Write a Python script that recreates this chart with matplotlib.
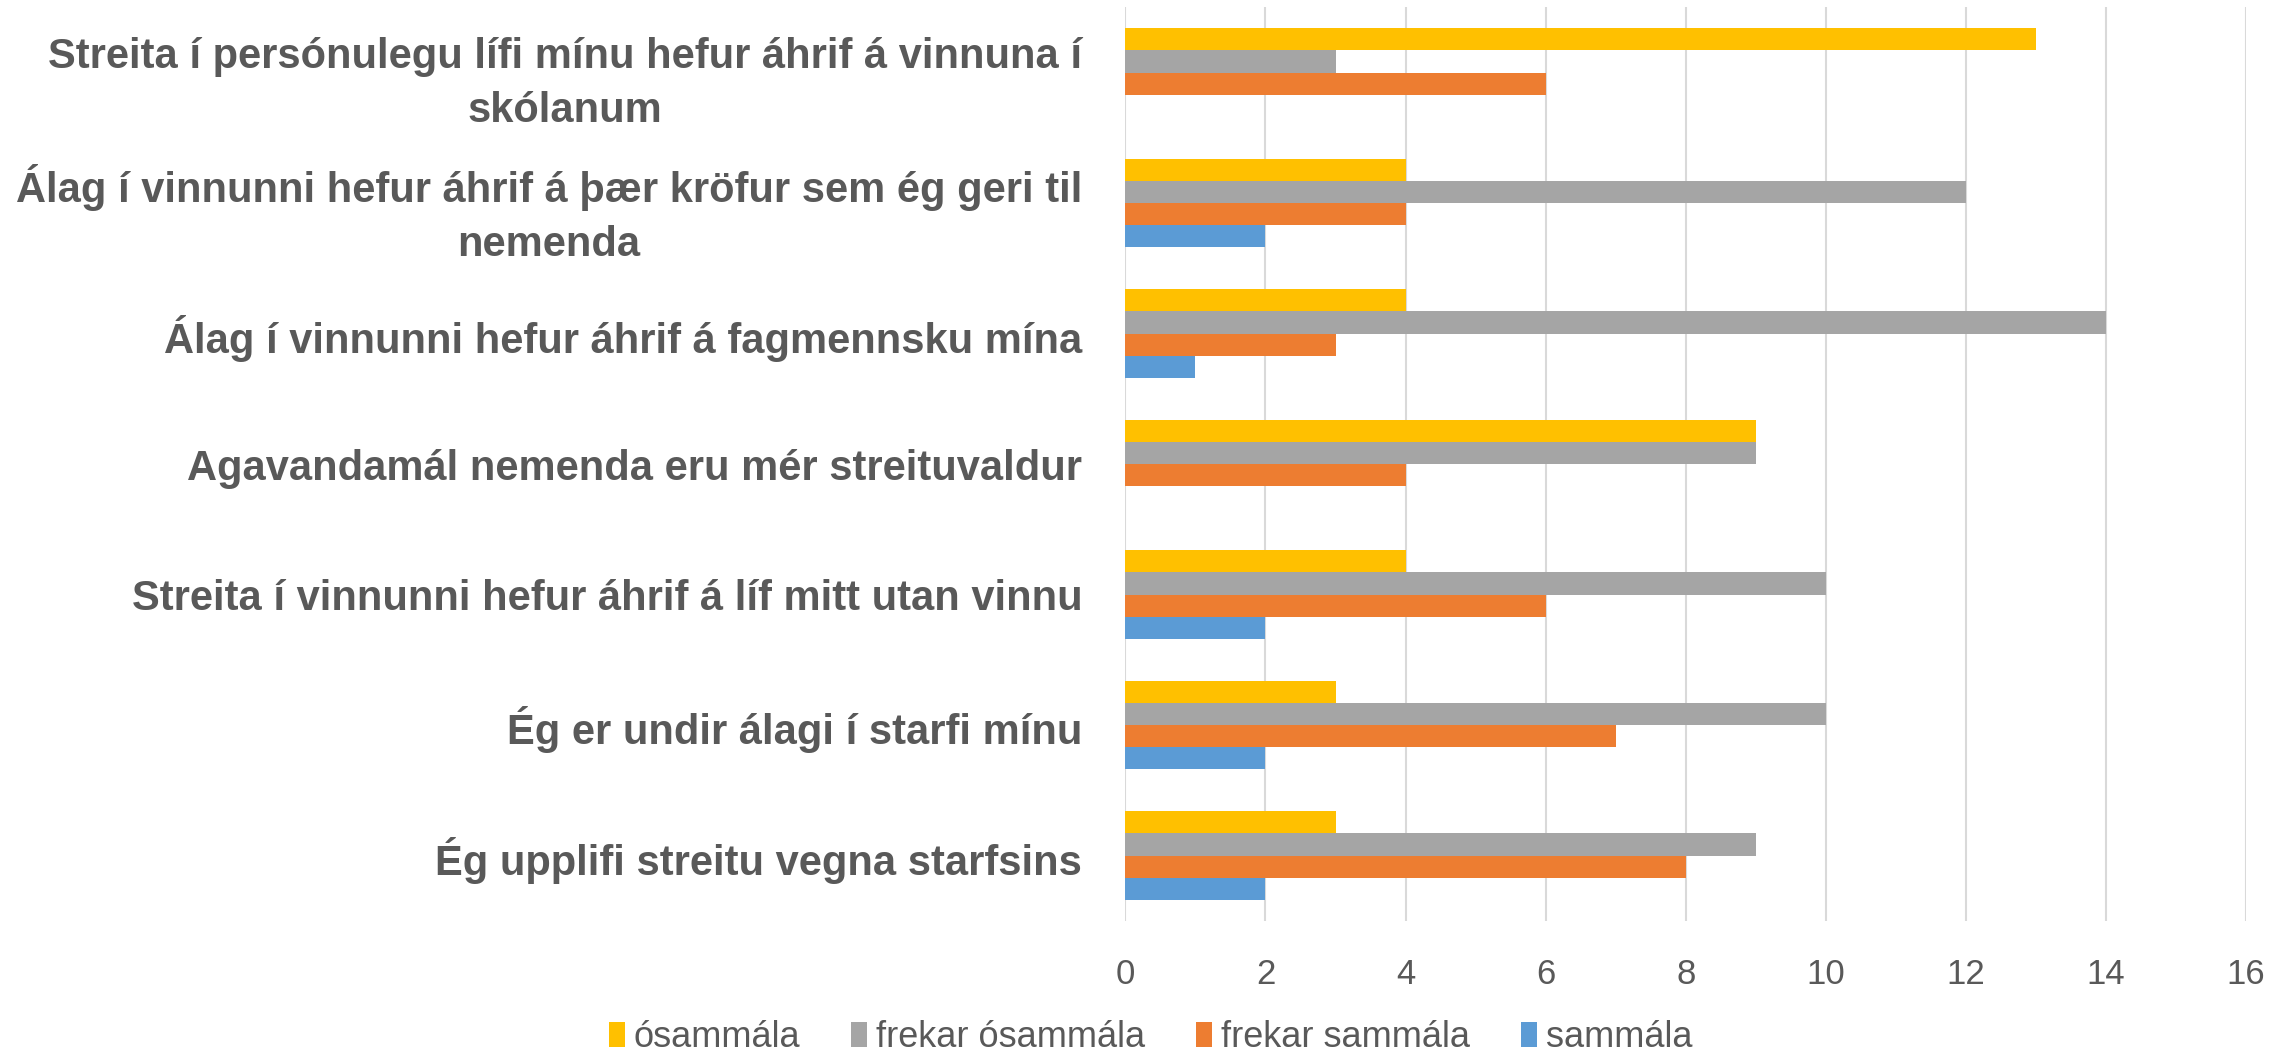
import numpy as np
import matplotlib
matplotlib.use('Agg')
import matplotlib.pyplot as plt

plt.rcParams['font.family'] = ['Liberation Sans', 'DejaVu Sans']

# Statements, top of chart first
categories = ['Streita í persónulegu lífi mínu hefur áhrif á vinnuna í\nskólanum',
              'Álag í vinnunni hefur áhrif á þær kröfur sem ég geri til\nnemenda',
              'Álag í vinnunni hefur áhrif á fagmennsku mína',
              'Agavandamál nemenda eru mér streituvaldur',
              'Streita í vinnunni hefur áhrif á líf mitt utan vinnu',
              'Ég er undir álagi í starfi mínu',
              'Ég upplifi streitu vegna starfsins']

series_names = ['ósammála', 'frekar ósammála', 'frekar sammála', 'sammála']
osammala = [13, 4, 4, 9, 4, 3, 3]
frekar_osammala = [3, 12, 14, 9, 10, 10, 9]
frekar_sammala = [6, 4, 3, 4, 6, 7, 8]
sammala = [0, 2, 1, 0, 2, 2, 2]
series = [osammala, frekar_osammala, frekar_sammala, sammala]
colors = ['#FFC000', '#A5A5A5', '#ED7D31', '#5B9BD5']

xticks = [0, 2, 4, 6, 8, 10, 12, 14, 16]

text_col = '#595959'
n = len(categories)
y = np.arange(n)[::-1]  # first category at top
h = 0.17
offsets = [1.5, 0.5, -0.5, -1.5]

fig = plt.figure(figsize=(22.92, 10.56), dpi=100)
ax = fig.add_axes([0.491, 0.128, 0.489, 0.865])

for vals, name, col, off in zip(series, series_names, colors, offsets):
    ax.barh(y + off * h, vals, height=h, color=col, label=name, zorder=3)

ax.set_xlim(0, 16)
ax.set_ylim(-0.5, n - 0.5)
ax.set_xticks(xticks)
ax.set_xticklabels([str(t) for t in xticks], fontsize=25, color=text_col)
ax.set_yticks(y)
ax.set_yticklabels(categories, fontsize=30, fontweight='bold', color=text_col)
for t in ax.get_yticklabels():
    t.set_multialignment('center')
    t.set_linespacing(1.45)
ax.tick_params(axis='both', length=0)
ax.tick_params(axis='y', pad=31)
ax.tick_params(axis='x', pad=27)
ax.grid(axis='x', color='#D9D9D9', linewidth=1.5, zorder=0)
for s in ax.spines.values():
    s.set_visible(False)

handles, labels = ax.get_legend_handles_labels()
fig.legend(handles, labels, loc='lower center', bbox_to_anchor=(0.502, -0.03), ncol=4,
           frameon=False, fontsize=26, labelcolor=text_col, handlelength=0.45,
           handleheight=0.7, handletextpad=0.25, columnspacing=1.4)

fig.savefig('out.png', dpi=100)
